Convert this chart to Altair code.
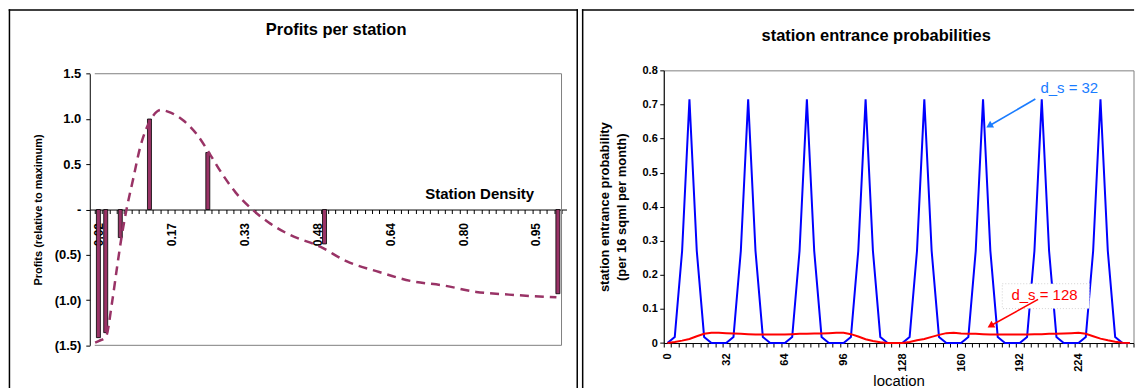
import json
import altair as alt
import pandas as pd

FONT = "Liberation Sans"
PLUM = "#993366"

# ---------------- left panel: Profits per station ----------------
bar_cat = [1, 2, 4, 8, 16, 32, 64]
bar_profit = [-1.415, -1.36, -0.31, 1.00, 0.63, -0.38, -0.93]

curve_cat = [0.55, 1.1, 2.0, 2.9, 3.55, 4.2, 4.9, 5.8, 6.7, 7.55, 8.45, 9.55, 10.9,
             12.7, 14.5, 16.3, 18.0, 19.8, 22.1, 24.3, 27.0, 31.4, 35.0, 39.5, 43.9,
             48.4, 52.8, 57.3, 63.8]
curve_profit = [-1.47, -1.45, -1.41, -1.01, -0.64, -0.29, 0.02, 0.35, 0.68, 0.89, 1.03,
                1.10, 1.07, 0.98, 0.83, 0.61, 0.39, 0.19, 0.0, -0.14, -0.27, -0.41, -0.57,
                -0.69, -0.79, -0.84, -0.91, -0.94, -0.97]

dens_tick_cat = [1, 11, 21, 31, 41, 51, 61]
dens_tick_label = ["0.02", "0.17", "0.33", "0.48", "0.64", "0.80", "0.95"]
profit_ticks = [-1.5, -1.0, -0.5, 0.0, 0.5, 1.0, 1.5]

# ---------------- right panel: station entrance probabilities ----------------
location = list(range(0, 253, 4))
prob_ds32 = [0, 0.018, 0.27, 0.715, 0.27, 0.018, 0, 0,
             0, 0.018, 0.27, 0.715, 0.27, 0.018, 0, 0,
             0, 0.018, 0.27, 0.715, 0.27, 0.018, 0, 0,
             0, 0.018, 0.27, 0.715, 0.27, 0.018, 0, 0,
             0, 0.018, 0.27, 0.715, 0.27, 0.018, 0, 0,
             0, 0.018, 0.27, 0.715, 0.27, 0.018, 0, 0,
             0, 0.018, 0.27, 0.715, 0.27, 0.018, 0, 0,
             0, 0.018, 0.27, 0.715, 0.27, 0.018, 0, 0]
prob_ds128 = [0.000, 0.003, 0.007, 0.012, 0.020, 0.027, 0.030, 0.030,
              0.029, 0.028, 0.027, 0.026, 0.025, 0.025, 0.025, 0.025,
              0.025, 0.026, 0.027, 0.027, 0.028, 0.028, 0.029, 0.030,
              0.030, 0.026, 0.019, 0.011, 0.006, 0.002, 0.000, 0.000,
              0.000, 0.003, 0.008, 0.012, 0.018, 0.024, 0.029, 0.030,
              0.028, 0.027, 0.027, 0.026, 0.025, 0.025, 0.025, 0.025,
              0.025, 0.025, 0.026, 0.026, 0.027, 0.027, 0.028, 0.029,
              0.030, 0.027, 0.020, 0.013, 0.008, 0.004, 0.001, 0.000]
loc_tick_label = [0, 32, 64, 96, 128, 160, 192, 224]
prob_ticks = [0, 0.1, 0.2, 0.3, 0.4, 0.5, 0.6, 0.7, 0.8]

# annotations (data coordinates)
ann_text = ["d_s = 32", "d_s = 128"]
ann_color = ["#1a7cff", "#ff0000"]
ann_text_loc = [219.0, 205.5]
ann_text_prob = [0.749, 0.140]
arrow_from_loc = [200.5, 202.0]
arrow_from_prob = [0.716, 0.128]
arrow_head_loc = [175.9, 176.6]
arrow_head_prob = [0.639, 0.052]
arrow_angle = [239, 240]
box_loc = [182.5, 230.0]
box_prob = [0.101, 0.174]

# plot geometry (pixels)
LW = 478
RW, RH = 471, 273.4
LTOP = 3.4            # left plot's top (1.5) sits a little below the right plot's top
LPLOT = 272.3         # left plot height between 1.5 and -1.5
LH = LTOP + LPLOT

one = pd.DataFrame({"k": [0]})


def hline(x1, x2, y, w=1.5):
    return alt.Chart(one).mark_rect(color="black").encode(
        x=alt.value(x1), x2=alt.value(x2), y=alt.value(y), y2=alt.value(y + w))


def vline(x, y1, y2, w=1.5):
    return alt.Chart(one).mark_rect(color="black").encode(
        x=alt.value(x), x2=alt.value(x + w), y=alt.value(y1), y2=alt.value(y2))


def title_text(txt, x, y):
    return alt.Chart(one).mark_text(text=txt, font=FONT, fontSize=16.5, fontWeight="bold",
                                    align="center", baseline="middle", color="black").encode(
        x=alt.value(x), y=alt.value(y))


# ---------- left chart ----------
xs_left = alt.Scale(domain=[0.5, 64.5], nice=False, zero=False)
ys_left = alt.Scale(domain=[-1.5, 1.5], nice=False, range=[LH, LTOP])

dens_label_expr = (json.dumps(dens_tick_label) + "[indexof(" + json.dumps(dens_tick_cat)
                   + ", datum.value)]")
x_offset_left = -(LPLOT / 2)

tick_axis_left = alt.Axis(orient="bottom", offset=x_offset_left,
                          values=[i + 0.5 for i in range(0, 65)], labels=False,
                          ticks=True, tickSize=4, domain=True, grid=False, title=None)
label_axis_left = alt.Axis(orient="bottom", offset=x_offset_left, values=dens_tick_cat,
                           labelExpr=dens_label_expr, labelAngle=-90, labelFlush=False,
                           labelOverlap=False, ticks=False, tickSize=0, domain=False,
                           labelPadding=13, labelFontSize=12, labelFontWeight="bold",
                           grid=False, title="Station Density", titleX=445, titleY=-11,
                           titleAlign="right", titleAnchor="end", titleBaseline="alphabetic",
                           titleFontSize=15, titleFontWeight="bold", titleAngle=0)
nb = "\u00a0"
y_axis_left = alt.Axis(orient="left", values=profit_ticks, grid=False, tickSize=4,
                       labelPadding=5, labelFontSize=13, labelFontWeight="bold",
                       labelExpr=("datum.value > 0.01 ? format(datum.value, '.1f') + '" + nb +
                                  "' : (datum.value < -0.01 ? '(' + format(-datum.value, '.1f') + ')' : '-"
                                  + nb + nb + nb + "')"),
                       title="Profits (relative to maximum)", titleFontSize=11,
                       titleFontWeight="bold", titleX=-51, titleY=LTOP + LPLOT / 2,
                       titleBaseline="middle")

df_bars = pd.DataFrame({"cat": bar_cat, "profit": bar_profit})
df_curve = pd.DataFrame({"c": curve_cat, "v": curve_profit})
# grey plot-area border on the top, right and bottom edges of the left plot
df_border = pd.DataFrame({"x1": [0.5, 64.5, 0.5], "x2": [64.5, 64.5, 64.5],
                          "y1": [1.5, -1.5, -1.5], "y2": [1.5, 1.5, -1.5]})

border_left = alt.Chart(df_border).mark_rule(color="#808080", strokeWidth=1).encode(
    x=alt.X("x1:Q", scale=xs_left, axis=None), x2="x2:Q",
    y=alt.Y("y1:Q", scale=ys_left, axis=None), y2="y2:Q",
)
bars = alt.Chart(df_bars).mark_bar(size=4, color=PLUM, stroke="black", strokeWidth=0.8).encode(
    x=alt.X("cat:Q", scale=xs_left, axis=tick_axis_left),
    y=alt.Y("profit:Q", scale=ys_left, axis=y_axis_left),
)
curve = alt.Chart(df_curve).mark_line(color=PLUM, strokeDash=[9, 6], strokeWidth=2.5,
                                      interpolate="monotone").encode(
    x=alt.X("c:Q", scale=xs_left, axis=label_axis_left),
    y=alt.Y("v:Q", scale=ys_left, axis=None),
)

left = alt.layer(
    vline(-81.3, -61.3, 330), hline(-81.3, 489.5, -61.3), vline(488.0, -61.3, 330),
    border_left, bars, curve,
    title_text("Profits per station", 247, -40.1)
).properties(width=LW, height=LH, view=alt.ViewBackground(strokeOpacity=0)).resolve_axis(
    x="independent", y="independent")

# ---------- right chart ----------
xs_right = alt.Scale(domain=[-2, 254], nice=False, zero=False)
ys_right = alt.Scale(domain=[0, 0.8], nice=False)

tick_axis_right = alt.Axis(orient="bottom", values=[-2 + 4 * i for i in range(0, 65)],
                           labels=False, ticks=True, tickSize=4, domain=True, grid=False,
                           title=None)
label_axis_right = alt.Axis(orient="bottom", values=loc_tick_label, labelAngle=-90,
                            labelFlush=False, labelOverlap=False, ticks=False, tickSize=0,
                            domain=False, labelPadding=10, labelFontSize=11,
                            labelFontWeight="bold", grid=False, title="location",
                            titleFontSize=15, titleFontWeight="normal", titleY=30.5,
                            titleBaseline="top")
y_axis_right = alt.Axis(orient="left", values=prob_ticks, format=".1~f", grid=False,
                        tickSize=4, labelPadding=2.5, labelFontSize=11,
                        labelFontWeight="bold",
                        title=["station entrance probability", "(per 16 sqml per month)"],
                        titleFontSize=13, titleFontWeight="bold", titleX=-59,
                        titleY=RH / 2, titleBaseline="middle", titleLineHeight=16.7)

df32 = pd.DataFrame({"loc": location, "p": prob_ds32})
df128 = pd.DataFrame({"loc": location, "p": prob_ds128})
df_ann = pd.DataFrame({"t": ann_text, "col": ann_color, "tx": ann_text_loc,
                       "ty": ann_text_prob, "fx": arrow_from_loc, "fy": arrow_from_prob,
                       "hx": arrow_head_loc, "hy": arrow_head_prob, "ang": arrow_angle})
df_box = pd.DataFrame({"x1": [box_loc[0]], "x2": [box_loc[1]],
                       "y1": [box_prob[0]], "y2": [box_prob[1]]})

line32 = alt.Chart(df32).mark_line(color="#0000FF", strokeWidth=2).encode(
    x=alt.X("loc:Q", scale=xs_right, axis=tick_axis_right),
    y=alt.Y("p:Q", scale=ys_right, axis=y_axis_right),
)
line128 = alt.Chart(df128).mark_line(color="#FF0000", strokeWidth=2).encode(
    x=alt.X("loc:Q", scale=xs_right, axis=label_axis_right),
    y=alt.Y("p:Q", scale=ys_right, axis=None),
)
box = alt.Chart(df_box).mark_rect(fill="white", stroke="#c8c8c8", strokeWidth=0.8,
                                  strokeDash=[1, 2]).encode(
    x=alt.X("x1:Q", scale=xs_right, axis=None), x2="x2:Q",
    y=alt.Y("y1:Q", scale=ys_right, axis=None), y2="y2:Q",
)
ann_txt = alt.Chart(df_ann).mark_text(font=FONT, fontSize=15, align="center",
                                      baseline="middle").encode(
    x=alt.X("tx:Q", scale=xs_right, axis=None),
    y=alt.Y("ty:Q", scale=ys_right, axis=None),
    text="t:N",
    color=alt.Color("col:N", scale=None),
)
shafts = alt.Chart(df_ann).mark_rule(strokeWidth=1.6).encode(
    x=alt.X("fx:Q", scale=xs_right, axis=None), x2="hx:Q",
    y=alt.Y("fy:Q", scale=ys_right, axis=None), y2="hy:Q",
    color=alt.Color("col:N", scale=None),
)
heads = alt.Chart(df_ann).mark_point(shape="triangle", filled=True, size=60, opacity=1).encode(
    x=alt.X("hx:Q", scale=xs_right, axis=None),
    y=alt.Y("hy:Q", scale=ys_right, axis=None),
    angle=alt.Angle("ang:Q", scale=None),
    color=alt.Color("col:N", scale=None),
)

right = alt.layer(
    vline(-82.05, -61.3, 330), hline(-82.05, 471.6, -61.3),
    line32, line128, box, ann_txt, shafts, heads,
    title_text("station entrance probabilities", 213, -34.5)
).properties(width=RW, height=RH).resolve_axis(x="independent", y="independent")

chart = alt.hconcat(left, right, spacing=2.5).properties(
    padding=0, background="white"
).configure_view(stroke="#808080", strokeWidth=1).configure_axis(
    labelFont=FONT, titleFont=FONT, labelColor="black", titleColor="black",
    domainColor="black", tickColor="black", domainWidth=1, tickWidth=1
).configure_text(font=FONT)

chart.save("out.html", embed_options={"renderer": "svg", "actions": False})
